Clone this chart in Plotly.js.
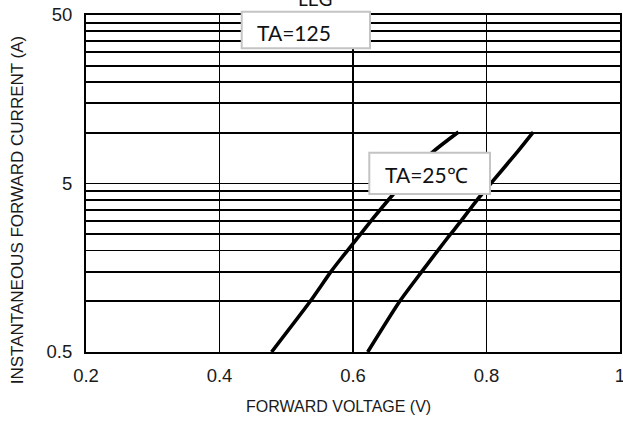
<!DOCTYPE html>
<html>
<head>
<meta charset="utf-8">
<script src="https://cdn.plot.ly/plotly-3.0.1.min.js"></script>
<style>html,body{margin:0;padding:0;background:#fff;}#chart{width:623px;height:421px;}</style>
</head>
<body>
<div id="chart"></div>
<script>
// Forward voltage (V) vs instantaneous forward current (A)
const vfHot = [0.478, 0.536, 0.567, 0.581, 0.600, 0.630, 0.660, 0.690, 0.718, 0.758];
const ifHot = [0.5, 1.0, 1.5, 1.77, 2.2, 3.1, 4.3, 5.8, 7.6, 10.1];
const vfCold = [0.622, 0.670, 0.703, 0.727, 0.746, 0.762, 0.786, 0.810, 0.845, 0.870];
const ifCold = [0.5, 1.0, 1.5, 2.0, 2.5, 3.0, 4.0, 5.2, 7.6, 10.1];

const xTicks = [0.2, 0.4, 0.6, 0.8, 1];
const xTickText = ['0.2', '0.4', '0.6', '0.8', '1'];
const yGrid = [0.5, 1, 1.5, 2, 2.5, 3, 3.5, 4, 4.5, 5, 10, 15, 20, 25, 30, 35, 40, 45, 50];
const yLabeled = ['0.5', '5', '50'];

const labelHot = 'TA=125';
const labelCold = 'TA=25\u2103';
const chartTitle = 'LEG';
const xTitle = 'FORWARD VOLTAGE (V)';
const yTitle = 'INSTANTANEOUS FORWARD CURRENT (A)';

const yTickText = yGrid.map(v => yLabeled.includes(String(v)) ? String(v) : '');

const lineStyle = {color: '#000', width: 3.6, shape: 'spline', smoothing: 0.6};
const traces = [
  {x: vfHot, y: ifHot, mode: 'lines', name: labelHot, line: lineStyle, hoverinfo: 'x+y'},
  {x: vfCold, y: ifCold, mode: 'lines', name: labelCold, line: lineStyle, hoverinfo: 'x+y'}
];

const F = 'Liberation Sans, Arial, sans-serif';
const boxFont = 'Lato, Liberation Sans, sans-serif';

const layout = {
  width: 623, height: 421,
  margin: {l: 86, r: 3, t: 15, b: 69},
  paper_bgcolor: '#fff', plot_bgcolor: '#fff',
  showlegend: false,
  font: {family: F, color: '#1a1a1a'},
  xaxis: {
    range: [0.2, 1], tickvals: xTicks, ticktext: xTickText,
    showgrid: true, gridcolor: '#000', gridwidth: 1.8,
    showline: true, mirror: true, linecolor: '#000', linewidth: 2,
    ticks: '', zeroline: false, tickfont: {size: 18.5, family: F, color: '#1a1a1a'},
    ticklabelstandoff: 6, ticklabeloverflow: 'allow', fixedrange: true
  },
  yaxis: {
    type: 'log', range: [Math.log10(0.5), Math.log10(50)],
    tickvals: yGrid, ticktext: yTickText,
    showgrid: true, gridcolor: '#000', gridwidth: 1.8,
    showline: true, mirror: true, linecolor: '#000', linewidth: 2,
    ticks: '', zeroline: false, tickfont: {size: 18.5, family: F, color: '#1a1a1a'},
    ticklabelstandoff: 8, ticklabeloverflow: 'allow', fixedrange: true
  },
  shapes: [
    {type: 'rect', xref: 'paper', yref: 'paper', x0: 0.2916, x1: 0.5318, y0: 0.9012, y1: 1.0098,
     fillcolor: '#fff', line: {color: '#c4c4c4', width: 2}, layer: 'above'},
    {type: 'rect', xref: 'paper', yref: 'paper', x0: 0.5305, x1: 0.7566, y0: 0.4688, y1: 0.5914,
     fillcolor: '#fff', line: {color: '#c4c4c4', width: 2}, layer: 'above'}
  ],
  annotations: [
    {text: labelHot, xref: 'paper', yref: 'paper', x: 0.3160, y: 0.9466, xanchor: 'left', yanchor: 'middle',
     showarrow: false, font: {family: boxFont, size: 21, color: '#111'}},
    {text: labelCold, xref: 'paper', yref: 'paper', x: 0.5560, y: 0.5267, xanchor: 'left', yanchor: 'middle',
     showarrow: false, font: {family: boxFont, size: 21, color: '#111'}},
    {text: chartTitle, xref: 'paper', yref: 'paper', x: 0.4288, y: 1.0475, xanchor: 'center', yanchor: 'middle',
     showarrow: false, font: {family: boxFont, size: 19, color: '#111'}},
    {text: xTitle, xref: 'paper', yref: 'paper', x: 0.4734, y: -0.1632, xanchor: 'center', yanchor: 'middle',
     showarrow: false, font: {family: F, size: 16, color: '#1a1a1a'}},
    {text: yTitle, xref: 'paper', yref: 'paper', x: -0.1268, y: 0.4214, xanchor: 'center', yanchor: 'middle',
     textangle: -90, showarrow: false, font: {family: F, size: 17, color: '#1a1a1a'}}
  ]
};

Plotly.newPlot('chart', traces, layout, {displayModeBar: false, staticPlot: true});
</script>
</body>
</html>
